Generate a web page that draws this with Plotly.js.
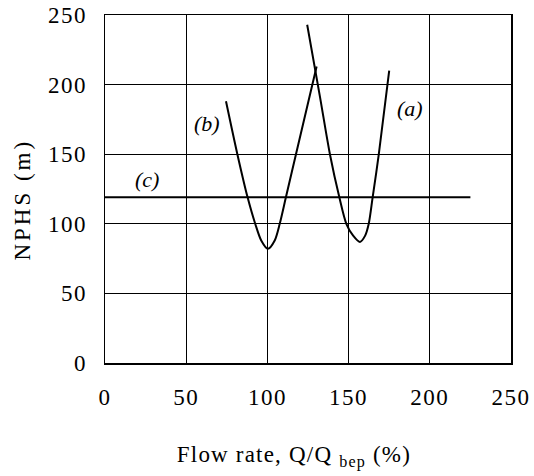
<!DOCTYPE html>
<html>
<head>
<meta charset="utf-8">
<script src="https://cdn.plot.ly/plotly-3.0.1.min.js"></script>
<style>
html,body{margin:0;padding:0;background:#fff;}
#chart{width:534px;height:476px;}
.xtick text,.ytick text{letter-spacing:1.5px;}
.annotation-text.xttl{letter-spacing:1.2px;}
.annotation-text.yttl{letter-spacing:3px;}
</style>
</head>
<body>
<div id="chart"></div>
<script>
// Curve (a)
const aX = [124.5, 132.4, 138.5, 144.3, 148.6, 152.8, 157, 160.2, 162.4, 164.8, 168.6, 175];
const aY = [243, 191, 150, 119, 100, 91.5, 87, 91.5, 100, 119, 150, 210];
// Curve (b)
const bX = [74.5, 81.5, 87.8, 92.5, 96.2, 100.3, 104.5, 107.6, 111.4, 117.6, 130.3];
const bY = [188, 150, 119, 100, 88, 82, 88, 100, 119, 150, 213];
// Line (c)
const cX = [0, 225];
const cY = [119, 119];
// Curve labels
const labelText = ["(a)", "(b)", "(c)"];
const labelX = [188, 62.5, 25.6];
const labelY = [183, 172, 131.5];
const tickVals = [0, 50, 100, 150, 200, 250];
const xTitle = "Flow rate, Q/Q <sub>bep</sub> (%)";
const yTitle = "NPHS (m)";

const serif = "Liberation Serif, Times New Roman, serif";
const lineStyle = {color: "#000", width: 2};

const traces = [
  {x: aX, y: aY, mode: "lines", line: Object.assign({shape: "spline", smoothing: 0.8}, lineStyle), hoverinfo: "skip"},
  {x: bX, y: bY, mode: "lines", line: Object.assign({shape: "spline", smoothing: 0.8}, lineStyle), hoverinfo: "skip"},
  {x: cX, y: cY, mode: "lines", line: lineStyle, hoverinfo: "skip"}
];

const annotations = labelText.map((t, i) => ({
  x: labelX[i], y: labelY[i], xref: "x", yref: "y", text: "<i>" + t + "</i>",
  showarrow: false, font: {family: serif, size: 22, color: "#000"}
}));
annotations.push({
  x: 0.4655, y: -0.27, xref: "paper", yref: "paper", xanchor: "center", yanchor: "middle",
  text: xTitle, showarrow: false, font: {family: serif, size: 23, color: "#000"}
});
annotations.push({
  x: -0.204, y: 0.47, xref: "paper", yref: "paper", xanchor: "center", yanchor: "middle",
  textangle: -90, text: yTitle, showarrow: false, font: {family: serif, size: 23, color: "#000"}
});

const axisCommon = {
  range: [0, 250], tickvals: tickVals, ticktext: tickVals.map(String),
  showgrid: true, gridcolor: "#000", gridwidth: 1.3,
  showline: true, linecolor: "#000", linewidth: 1.5, mirror: true,
  zeroline: false, ticks: "",
  tickfont: {family: serif, size: 23, color: "#000"}
};

const layout = {
  width: 534, height: 476,
  margin: {l: 105, r: 23, t: 15, b: 113},
  paper_bgcolor: "#fff", plot_bgcolor: "#fff",
  showlegend: false,
  xaxis: Object.assign({}, axisCommon, {ticklabelstandoff: 13}),
  yaxis: Object.assign({}, axisCommon, {ticklabelstandoff: 12}),
  annotations: annotations
};

Plotly.newPlot("chart", traces, layout, {staticPlot: true, displayModeBar: false}).then(() => {
  document.querySelectorAll(".annotation-text").forEach(el => {
    const t = el.textContent;
    if (t.indexOf("Flow") === 0) el.classList.add("xttl");
    if (t.indexOf("NPHS") === 0) el.classList.add("yttl");
  });
});
</script>
</body>
</html>
